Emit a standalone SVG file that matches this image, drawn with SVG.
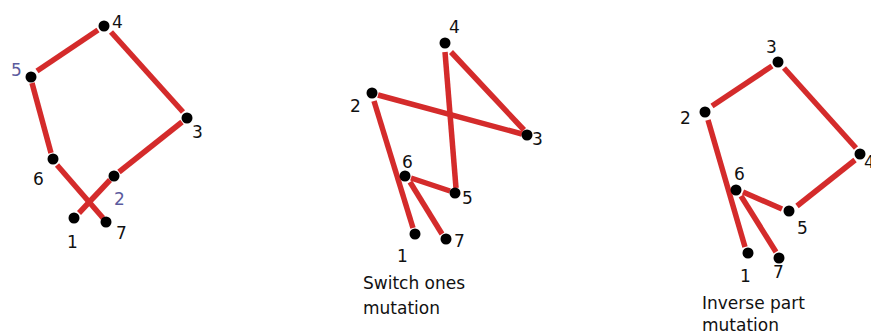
<svg xmlns="http://www.w3.org/2000/svg" width="871" height="335" viewBox="0 0 871 335">
<style>
.e{stroke:#d42b2b;stroke-width:5.5;stroke-linecap:butt;fill:none}
.d{fill:#000}
.n{font-family:"DejaVu Sans",Verdana,sans-serif;font-size:17px;fill:#111}
.p{fill:#5b5b9e}
.c{font-family:"DejaVu Sans",Verdana,sans-serif;font-size:17px;fill:#111}
</style>
<rect width="871" height="335" fill="#fff"/>
<g id="connectors">
<line class="e" x1="37" y1="71" x2="98" y2="30"/>
<line class="e" x1="32" y1="83" x2="51" y2="153"/>
<line class="e" x1="57" y1="165" x2="103" y2="218"/>
<line class="e" x1="111" y1="32" x2="183" y2="112"/>
<line class="e" x1="182" y1="122" x2="119" y2="172"/>
<line class="e" x1="110" y1="180" x2="79" y2="213"/>
<line class="e" x1="378" y1="95" x2="522" y2="134"/>
<line class="e" x1="451" y1="52" x2="524" y2="130"/>
<line class="e" x1="445" y1="52" x2="456" y2="188"/>
<line class="e" x1="450" y1="191" x2="411" y2="178"/>
<line class="e" x1="410" y1="182" x2="442" y2="234"/>
<line class="e" x1="374" y1="101" x2="413" y2="228"/>
<line class="e" x1="712" y1="106" x2="772" y2="66"/>
<line class="e" x1="784" y1="68" x2="856" y2="148"/>
<line class="e" x1="855" y1="160" x2="797" y2="206"/>
<line class="e" x1="782" y1="209" x2="743" y2="192"/>
<line class="e" x1="741" y1="196" x2="776" y2="252"/>
<line class="e" x1="708" y1="120" x2="745" y2="247"/>
</g>
<g id="g1">
<g id="g1-n4"><circle class="d" cx="104" cy="26" r="5.5"/><text class="n" x="112" y="28">4</text></g>
<g id="g1-n5"><circle class="d" cx="31" cy="77" r="5.5"/><text class="n p" x="11" y="76">5</text></g>
<g id="g1-n3"><circle class="d" cx="187" cy="118" r="5.5"/><text class="n" x="192" y="138">3</text></g>
<g id="g1-n6"><circle class="d" cx="53" cy="159" r="5.5"/><text class="n" x="33" y="185">6</text></g>
<g id="g1-n2"><circle class="d" cx="114" cy="176" r="5.5"/><text class="n p" x="114" y="205">2</text></g>
<g id="g1-n1"><circle class="d" cx="74" cy="218" r="5.5"/><text class="n" x="67" y="248">1</text></g>
<g id="g1-n7"><circle class="d" cx="106" cy="222" r="5.5"/><text class="n" x="116" y="239">7</text></g>
</g>
<g id="g2">
<g id="g2-n4"><circle class="d" cx="445" cy="43" r="5.5"/><text class="n" x="449" y="33">4</text></g>
<g id="g2-n2"><circle class="d" cx="372" cy="93" r="5.5"/><text class="n" x="350" y="112">2</text></g>
<g id="g2-n3"><circle class="d" cx="527" cy="135" r="5.5"/><text class="n" x="532" y="145">3</text></g>
<g id="g2-n6"><circle class="d" cx="405" cy="176" r="5.5"/><text class="n" x="402" y="168">6</text></g>
<g id="g2-n5"><circle class="d" cx="455" cy="193" r="5.5"/><text class="n" x="462" y="204">5</text></g>
<g id="g2-n1"><circle class="d" cx="415" cy="234" r="5.5"/><text class="n" x="397" y="262">1</text></g>
<g id="g2-n7"><circle class="d" cx="446" cy="239" r="5.5"/><text class="n" x="454" y="247">7</text></g>
<text class="c" x="363" y="289">Switch ones</text>
<text class="c" x="363" y="314">mutation</text>
</g>
<g id="g3">
<g id="g3-n3"><circle class="d" cx="778" cy="62" r="5.5"/><text class="n" x="766" y="53">3</text></g>
<g id="g3-n2"><circle class="d" cx="705" cy="112" r="5.5"/><text class="n" x="680" y="124">2</text></g>
<g id="g3-n4"><circle class="d" cx="860" cy="154" r="5.5"/><text class="n" x="864" y="168">4</text></g>
<g id="g3-n6"><circle class="d" cx="736" cy="190" r="5.5"/><text class="n" x="734" y="180">6</text></g>
<g id="g3-n5"><circle class="d" cx="789" cy="211" r="5.5"/><text class="n" x="797" y="234">5</text></g>
<g id="g3-n1"><circle class="d" cx="748" cy="253" r="5.5"/><text class="n" x="740" y="282">1</text></g>
<g id="g3-n7"><circle class="d" cx="779" cy="258" r="5.5"/><text class="n" x="773" y="278">7</text></g>
<text class="c" x="702" y="309">Inverse part</text>
<text class="c" x="702" y="331">mutation</text>
</g>
</svg>
